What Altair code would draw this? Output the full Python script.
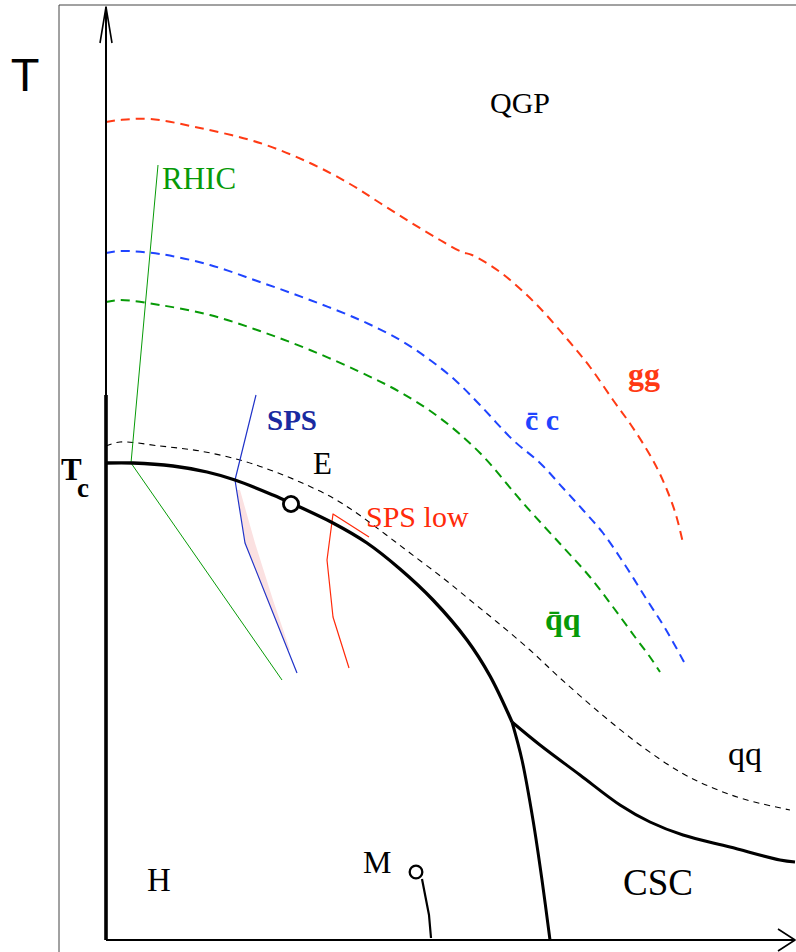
import altair as alt
import pandas as pd

# Schematic QCD phase diagram: baryon chemical potential (mu) horizontally,
# temperature (T) vertically, in arbitrary plot units with the origin at the
# crossing of the two axes.
MU_DOMAIN = [-106, 690]
T_DOMAIN = [-12, 940]

# Solid phase boundary from T_c to the junction point
bnd_mu = [0, 27, 67, 101, 129, 167, 185, 227, 261, 294, 327, 361, 384, 406]
bnd_t = [477, 477, 474, 468, 460, 445, 437, 417, 397, 371, 340, 300, 264, 218]
# Branch from the junction down to the mu axis
low_mu = [406, 416, 427, 436, 444]
low_t = [218, 180, 120, 60, 0]
# Boundary of the colour-superconducting (CSC) phase
csc_mu = [406, 434, 474, 514, 544, 577, 624, 674, 689]
csc_t = [218, 195, 165, 135, 118, 105, 93, 80, 78]

# Thin dashed crossover line
cross_mu = [0, 14, 54, 94, 134, 164, 194, 227, 252, 279, 304, 337, 364, 391, 424, 454, 494, 534, 574, 607, 641, 684]
cross_t = [494, 498, 494, 489, 480, 470, 458, 442, 426, 406, 387, 362, 340, 318, 290, 262, 227, 195, 168, 152, 140, 130]

# Dissociation lines: gg, c-bar c, q-bar q
gg_mu = [0, 14, 44, 94, 154, 204, 244, 274, 304, 334, 356, 366, 394, 429, 462, 484, 507, 525, 541, 552, 561, 570, 577]
gg_t = [818, 820, 821, 812, 797, 777, 756, 737, 718, 700, 688, 685, 668, 637, 600, 573, 540, 515, 490, 470, 450, 425, 397]
cc_mu = [0, 14, 54, 104, 154, 204, 254, 294, 324, 349, 374, 407, 434, 457, 477, 497, 519, 541, 559, 578]
cc_t = [687, 689, 686, 675, 658, 640, 620, 600, 580, 560, 535, 500, 477, 452, 430, 407, 375, 340, 312, 278]
qq_mu = [0, 14, 54, 104, 154, 204, 254, 294, 334, 374, 417, 457, 484, 507, 529, 544, 554]
qq_t = [638, 640, 635, 625, 609, 590, 568, 548, 522, 487, 437, 393, 363, 333, 303, 283, 268]

# Freeze-out trajectories
rhic_mu = [52, 25, 176]
rhic_t = [775, 477, 260]
sps_mu = [150, 129, 139, 191]
sps_t = [545, 460, 397, 267]
spslow_mu = [263, 227, 221, 227, 243]
spslow_t = [403, 426, 380, 323, 272]
# Shaded band beside the SPS trajectory
band_t = [450, 397, 340, 290]
band_lo = [131, 139, 161, 182]
band_hi = [134, 149, 167, 184]

# Critical end point E and the point M
pts_name = ["E", "M"]
pts_mu = [185, 310]
pts_t = [436, 68]
pts_size = [230, 160]
pts_width = [2.8, 2.3]
# Line hanging below M
m_mu = [316, 323, 325]
m_t = [61, 25, 2]

# Axes: T axis (thin upper part, thick lower part), mu axis, arrow heads
t_axis_t = [0, 933]
t_thick_t = [0, 545]
t_arrow_mu = [-6, 0, 6]
t_arrow_t = [897, 933, 897]
mu_axis_mu = [0, 689]
mu_arrow_mu = [672, 689, 672]
mu_arrow_t = [11, 0, -11]
# Outer frame lines
frame_v_t = [-12, 935]
frame_h_mu = [-47, 690]

BLACK = "#000000"
RED = "#ff3a14"
BLUE = "#1f44ff"
GREEN = "#079a07"
SPS_BLUE = "#2033c8"
SPS_TEXT = "#1a2aa0"
SPS_RED = "#ff2a0a"

x_scale = alt.Scale(domain=MU_DOMAIN, nice=False, zero=False)
y_scale = alt.Scale(domain=T_DOMAIN, nice=False, zero=False)


def frame(mu, t):
    return pd.DataFrame({"mu": mu, "T": t, "o": list(range(len(mu)))})


def path(mu, t, color, width, dash=None, interp="linear"):
    kw = dict(color=color, strokeWidth=width, interpolate=interp,
              strokeJoin="round", strokeCap="butt")
    if dash:
        kw["strokeDash"] = dash
    return alt.Chart(frame(mu, t)).mark_line(**kw).encode(
        x=alt.X("mu:Q", scale=x_scale, axis=None),
        y=alt.Y("T:Q", scale=y_scale, axis=None),
        order="o:Q",
    )


def label(text, mu, t, size, color=BLACK, weight="normal", font="Liberation Serif", align="left"):
    df = pd.DataFrame({"mu": [mu], "T": [t], "txt": [text]})
    return alt.Chart(df).mark_text(
        font=font, fontSize=size, fontWeight=weight, color=color,
        align=align, baseline="alphabetic",
    ).encode(
        x=alt.X("mu:Q", scale=x_scale, axis=None),
        y=alt.Y("T:Q", scale=y_scale, axis=None),
        text="txt:N",
    )


SMOOTH = "catmull-rom"
layers = []

# frame
layers.append(path([-47, -47], frame_v_t, "#444444", 1))
layers.append(path(frame_h_mu, [935, 935], "#444444", 1))

# shaded band next to SPS trajectory
band = pd.DataFrame({"T": band_t, "lo": band_lo, "hi": band_hi})
layers.append(
    alt.Chart(band).mark_area(color="#fbe1e1", orient="horizontal", interpolate="linear").encode(
        y=alt.Y("T:Q", scale=y_scale, axis=None),
        x=alt.X("lo:Q", scale=x_scale, axis=None),
        x2="hi:Q",
    )
)

# dashed dissociation lines
layers.append(path(gg_mu, gg_t, RED, 2, [9, 6], SMOOTH))
layers.append(path(cc_mu, cc_t, BLUE, 2, [9, 6], SMOOTH))
layers.append(path(qq_mu, qq_t, GREEN, 2, [9, 6], SMOOTH))
layers.append(path(cross_mu, cross_t, BLACK, 1.1, [6, 5], SMOOTH))

# freeze-out lines
layers.append(path(rhic_mu, rhic_t, GREEN, 1))
layers.append(path(sps_mu, sps_t, SPS_BLUE, 1.2))
layers.append(path(spslow_mu, spslow_t, SPS_RED, 1.2))

# axes
layers.append(path([0, 0], t_axis_t, BLACK, 2))
layers.append(path([0, 0], t_thick_t, BLACK, 3.6))
layers.append(path(t_arrow_mu, t_arrow_t, BLACK, 1.6))
layers.append(path(mu_axis_mu, [0, 0], BLACK, 2))
layers.append(path(mu_arrow_mu, mu_arrow_t, BLACK, 1.6))

# phase boundaries
layers.append(path(bnd_mu, bnd_t, BLACK, 3.3, interp=SMOOTH))
layers.append(path(low_mu, low_t, BLACK, 3, interp=SMOOTH))
layers.append(path(csc_mu, csc_t, BLACK, 3, interp=SMOOTH))
layers.append(path(m_mu, m_t, BLACK, 2.2))

# E and M points
pts = pd.DataFrame({"name": pts_name, "mu": pts_mu, "T": pts_t})
for i in range(len(pts)):
    layers.append(
        alt.Chart(pts.iloc[[i]]).mark_point(
            shape="circle", filled=True, fill="white", stroke=BLACK,
            strokeWidth=float(pts_width[i]), size=float(pts_size[i]), opacity=1,
        ).encode(
            x=alt.X("mu:Q", scale=x_scale, axis=None),
            y=alt.Y("T:Q", scale=y_scale, axis=None),
        )
    )

# text labels
layers += [
    label("T", -81, 849, 47, font="Liberation Sans", align="center"),
    label("T", -45, 460, 31, weight="bold"),
    label("c", -29, 443, 27, weight="bold"),
    label("QGP", 384, 827, 30),
    label("RHIC", 56, 751, 31, color=GREEN),
    label("SPS", 161, 510, 29, color=SPS_TEXT, weight="bold"),
    label("E", 207, 466, 31),
    label("SPS low", 260, 413, 30, color=SPS_RED),
    label("gg", 522, 555, 32, color=RED, weight="bold"),
    label("c\u0304 c", 419, 510, 30, color=BLUE, weight="bold"),
    label("q\u0304q", 439, 310, 32, color=GREEN, weight="bold"),
    label("qq", 622, 175, 34),
    label("H", 41, 49, 33),
    label("M", 257, 67, 32),
    label("CSC", 517, 45, 37),
]

chart = alt.layer(*layers).properties(
    width=796, height=952, padding=0, autosize="none", background="white",
).configure_view(stroke=None)

chart.save("out.html", embed_options={"renderer": "svg", "actions": False})
